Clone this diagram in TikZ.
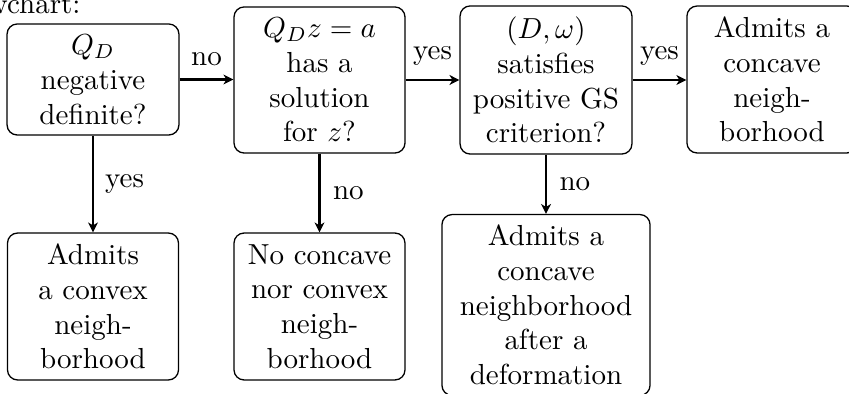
\documentclass[tikz,border=0pt]{standalone}
\usetikzlibrary{arrows.meta}
\begin{document}
\begin{tikzpicture}[x=0.345pt,y=-0.345pt,
  box/.style={draw, rounded corners=3.5pt, align=center, inner sep=2pt, line width=0.45pt},
  arr/.style={-{Stealth[length=3.4pt,width=3.4pt,inset=1pt]}, line width=0.7pt}]
\useasboundingbox (0,0) rectangle (849,394);
\clip (0,0) rectangle (849,394);
\node[anchor=base east, inner sep=0pt] (title) at (81,13.5) {flowchart:};
\node[box, minimum width=59.3pt, minimum height=38.3pt] (b1) at (93,79.5) {$Q_D$\\negative\\definite?};
\node[box, minimum width=59pt, minimum height=50.4pt] (b2) at (319.5,80) {$Q_Dz=a$\\has a\\solution\\for $z$?};
\node[box, minimum width=59.3pt, minimum height=51.1pt] (b3) at (546,80) {$(D,\omega)$\\satisfies\\positive GS\\criterion?};
\node[box, minimum width=58.7pt, minimum height=50.7pt] (b4) at (772,79.5) {Admits a\\concave\\neigh-\\borhood};
\node[box, minimum width=59pt, minimum height=50.7pt] (b5) at (93,306.5) {Admits\\a convex\\neigh-\\borhood};
\node[box, minimum width=59pt, minimum height=50.7pt] (b6) at (319.5,306.5) {No concave\\nor convex\\neigh-\\borhood};
\node[box, minimum width=71.8pt, minimum height=62.4pt] (b7) at (546,305) {Admits a\\concave\\neighborhood\\after a\\deformation};
\draw[arr] (b1.east) -- (b1.east -| b2.west) node[midway, above=1.2pt] (l1) {no};
\draw[arr] (b2.east) -- (b2.east -| b3.west) node[midway, above=1.2pt] (l2) {yes};
\draw[arr] (b3.east) -- (b3.east -| b4.west) node[midway, above=1.2pt] (l3) {yes};
\draw[arr] (b1.south) -- (b5.north) node[midway, right=0.5pt] (l4) {yes};
\draw[arr] (b2.south) -- (b6.north) node[midway, right=1pt] (l5) {no};
\draw[arr] (b3.south) -- (b7.north) node[midway, right=1pt] (l6) {no};
\end{tikzpicture}
\end{document}
